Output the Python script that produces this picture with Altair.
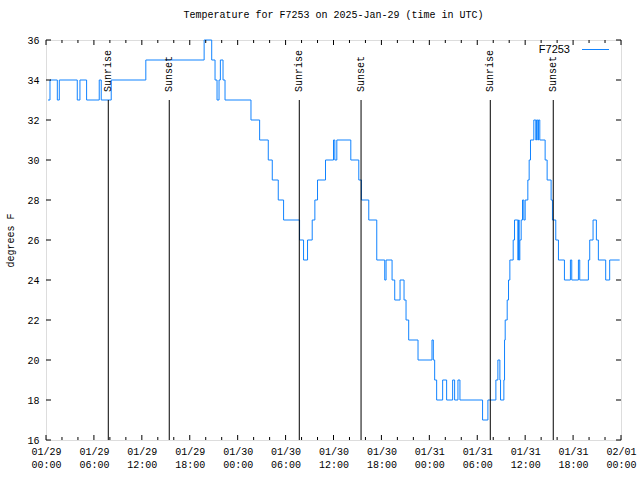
import altair as alt
import pandas as pd

# Temperature change points: minutes after 2025-01-29 00:00 UTC, value in deg F
minutes = [15, 30, 85, 100, 235, 255, 305, 400, 415, 490, 750, 1188, 1245, 1270, 1285, 1300,
           1310, 1330, 1345, 1540, 1605, 1670, 1700, 1745, 1785, 1905, 1935, 1965, 2000, 2020,
           2040, 2100, 2160, 2170, 2185, 2290, 2350, 2370, 2425, 2485, 2545, 2555, 2600, 2620,
           2660, 2690, 2705, 2725, 2795, 2900, 2910, 2920, 2935, 2980, 3010, 3055, 3070, 3095,
           3110, 3280, 3320, 3380, 3395, 3410, 3415, 3440, 3445, 3450, 3465, 3475, 3485, 3510,
           3520, 3545, 3550, 3555, 3560, 3570, 3580, 3590, 3600, 3620, 3630, 3640, 3665, 3680,
           3685, 3695, 3700, 3710, 3750, 3765, 3795, 3805, 3830, 3850, 3895, 3940, 3950, 4000,
           4010, 4075, 4085, 4110, 4135, 4150, 4205, 4235, 4310]
temps = [33, 34, 33, 34, 33, 34, 33, 34, 33, 34, 35, 36, 35, 34, 33, 34,
         35, 34, 33, 32, 31, 30, 29, 28, 27, 26, 25, 26, 27, 28,
         29, 30, 31, 30, 31, 30, 29, 28, 27, 25, 24, 25, 24, 23,
         24, 23, 22, 21, 20, 21, 20, 19, 18, 19, 18, 19, 18, 19,
         18, 17, 18, 19, 20, 19, 18, 19, 21, 22, 23, 24, 25, 26,
         27, 25, 27, 25, 26, 27, 28, 27, 28, 29, 30, 31, 32, 31,
         32, 31, 32, 31, 30, 29, 28, 27, 26, 25, 24, 25, 24, 25,
         24, 25, 26, 27, 26, 25, 24, 25, 25]

sun_labels = ["Sunrise", "Sunset", "Sunrise", "Sunset", "Sunrise", "Sunset"]
sun_minutes = [468, 926, 1903, 2367, 3338, 3811]

major_hours = [0, 6, 12, 18, 24, 30, 36, 42, 48, 54, 60, 66, 72]
minor_hours = [2, 4, 8, 10, 14, 16, 20, 22, 26, 28, 32, 34, 38, 40, 44, 46, 50, 52, 56, 58, 62, 64, 68, 70]
y_ticks = [16, 18, 20, 22, 24, 26, 28, 30, 32, 34, 36]

series_name = "F7253"
title_text = "Temperature for F7253 on 2025-Jan-29 (time in UTC)"

FONT = "Liberation Mono"
LINE_COLOR = "#1183ff"
W, H = 575, 400

base = pd.Timestamp("2025-01-29T00:00:00")


def iso(ts):
    return ts.strftime("%Y-%m-%dT%H:%M:%SZ")


df = pd.DataFrame({
    "t": [iso(base + pd.Timedelta(minutes=m)) for m in minutes],
    "v": temps,
})
sun_df = pd.DataFrame({
    "t": [iso(base + pd.Timedelta(minutes=m)) for m in sun_minutes],
    "label": sun_labels,
})
major_df = pd.DataFrame({"t": [iso(base + pd.Timedelta(hours=h)) for h in major_hours]})
minor_df = pd.DataFrame({"t": [iso(base + pd.Timedelta(hours=h)) for h in minor_hours]})
ytick_df = pd.DataFrame({"v": y_ticks})
legend_df = pd.DataFrame({"name": [series_name]})

x_scale = alt.Scale(
    type="utc",
    domain=[alt.DateTime(year=2025, month=1, date=29, utc=True),
            alt.DateTime(year=2025, month=2, date=1, utc=True)],
    nice=False,
)
y_scale = alt.Scale(domain=[16, 36], nice=False, zero=False)

tick_values = [alt.DateTime(year=2025, month=1, date=29 + h // 24, hours=h % 24, utc=True)
               for h in major_hours[:-1]] + [alt.DateTime(year=2025, month=2, date=1, hours=0, utc=True)]

x_axis = alt.Axis(
    values=tick_values,
    labelExpr="[utcFormat(datum.value, '%m/%d'), utcFormat(datum.value, '%H:%M')]",
    ticks=False, domain=False, grid=False,
    labelFont=FONT, labelFontSize=10, labelColor="black",
    labelPadding=6, labelLineHeight=13, labelFlush=False, labelOverlap=False,
    title=None,
)
y_axis = alt.Axis(
    values=y_ticks, ticks=False, domain=False, grid=False,
    labelFont=FONT, labelFontSize=10, labelColor="black", labelPadding=7,
    labelOverlap=False, labelFlush=False, labelBound=False,
    title="degrees F", titleFont=FONT, titleFontSize=10, titleFontWeight="normal",
    titleColor="black", titleAngle=270, titleX=-36, titleY=200,
    titleAlign="center", titleBaseline="middle",
)

line = alt.Chart(df).mark_line(interpolate="step-after", color=LINE_COLOR, strokeWidth=1).encode(
    x=alt.X("t:T", scale=x_scale, axis=x_axis),
    y=alt.Y("v:Q", scale=y_scale, axis=y_axis),
)

sun_rules = alt.Chart(sun_df).mark_rule(color="black", strokeWidth=1).encode(
    x=alt.X("t:T", axis=x_axis),
    y=alt.value(60),
    y2=alt.value(H),
)
sun_text = alt.Chart(sun_df).mark_text(
    angle=270, align="left", baseline="middle", font=FONT, fontSize=10, color="black"
).encode(
    x=alt.X("t:T", axis=x_axis),
    y=alt.value(52),
    text="label:N",
)


def xticks(data, y0, y1):
    return alt.Chart(data).mark_rule(color="black", strokeWidth=1).encode(
        x=alt.X("t:T", axis=x_axis), y=alt.value(y0), y2=alt.value(y1)
    )


def yticks(x0, x1):
    return alt.Chart(ytick_df).mark_rule(color="black", strokeWidth=1).encode(
        y=alt.Y("v:Q", axis=y_axis), x=alt.value(x0), x2=alt.value(x1)
    )


tick_layers = [
    xticks(major_df, H, H - 5), xticks(major_df, 0, 5),
    xticks(minor_df, H, H - 3), xticks(minor_df, 0, 3),
    yticks(0, 5), yticks(W, W - 5),
]

legend_text = alt.Chart(legend_df).mark_text(
    align="right", baseline="middle", font="Liberation Sans", fontSize=11, color="black"
).encode(x=alt.value(524), y=alt.value(10), text="name:N")
legend_line = alt.Chart(legend_df).mark_rule(color=LINE_COLOR, strokeWidth=1).encode(
    x=alt.value(536), x2=alt.value(563), y=alt.value(9.5)
)

chart = alt.layer(
    line, sun_rules, sun_text, *tick_layers, legend_text, legend_line
).properties(
    width=W, height=H,
    title=alt.TitleParams(title_text, font=FONT, fontSize=10, fontWeight="normal",
                          color="black", anchor="middle", offset=15),
    autosize=alt.AutoSizeParams(type="none"),
    padding={"left": 46, "top": 40, "right": 19, "bottom": 40},
).configure_view(
    stroke="black", strokeWidth=1
).configure_axis(
    labelOverlap=False
).configure(background="white")

chart.save("out.html", embed_options={"renderer": "svg", "actions": False})
